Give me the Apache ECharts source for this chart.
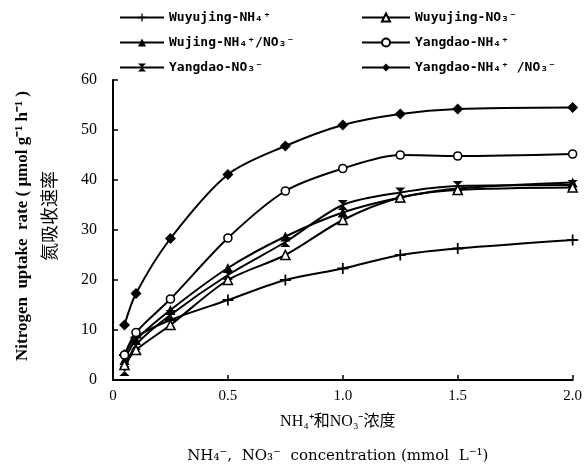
<!DOCTYPE html>
<html>
<head>
<meta charset="utf-8">
<script src="https://cdn.jsdelivr.net/npm/echarts@6/dist/echarts.min.js"></script>
<style>
  html, body { margin: 0; padding: 0; background: #fff; }
  #chart { width: 585px; height: 471px; }
</style>
</head>
<body>
<div id="chart"></div>
<script>
  // 浓度 (mmol L-1)
  var conc = [0.05, 0.1, 0.25, 0.5, 0.75, 1.0, 1.25, 1.5, 2.0];

  var names = [
    "Wuyujing-NH₄⁺",
    "Wujing-NH₄⁺/NO₃⁻",
    "Yangdao-NO₃⁻",
    "Wuyujing-NO₃⁻",
    "Yangdao-NH₄⁺",
    "Yangdao-NH₄⁺ /NO₃⁻"
  ];

  var wuyujingNH4 = [5, 8.5, 12, 16, 20, 22.3, 25, 26.3, 28];
  var wujingMix = [4, 8, 14, 22.4, 28.7, 33.5, 36.5, 38.3, 39.5];
  var yangdaoNO3 = [1.8, 7, 13, 21, 27.6, 35, 37.5, 38.8, 39];
  var wuyujingNO3 = [3, 6, 11, 20, 25, 32, 36.5, 38, 38.5];
  var yangdaoNH4 = [5, 9.5, 16.2, 28.4, 37.8, 42.3, 45, 44.8, 45.2];
  var yangdaoMix = [11, 17.3, 28.3, 41.1, 46.8, 51, 53.2, 54.2, 54.5];

  var xTicks = ["0", "0.5", "1.0", "1.5", "2.0"];

  var SYM_PLUS = "path://M0,4.2L10,4.2L10,5.8L0,5.8Z M4.2,0L5.8,0L5.8,10L4.2,10Z";
  var SYM_BOWTIE = "path://M0,0L10,0L0,10L10,10Z";

  function pairs(ys) {
    return conc.map(function (x, i) { return [x, ys[i]]; });
  }

  function line(name, ys, symbol, size, fill) {
    return {
      name: name,
      type: "line",
      smooth: 0.3,
      data: pairs(ys),
      symbol: symbol,
      symbolSize: size,
      showAllSymbol: true,
      lineStyle: { color: "#000", width: 2 },
      itemStyle: { color: fill, borderColor: "#000", borderWidth: fill === "#fff" ? 1.6 : 0 },
      z: 3
    };
  }

  var chart = echarts.init(document.getElementById("chart"));
  var font = "Liberation Serif, Times New Roman, serif";
  var mono = "DejaVu Sans Mono, Liberation Mono, monospace";
  var legendText = { color: "#000", fontFamily: mono, fontSize: 13, fontWeight: "bold" };

  chart.setOption({
    animation: false,
    backgroundColor: "#fff",
    legend: [{
      orient: "vertical",
      left: 114,
      top: 6,
      itemWidth: 44,
      itemHeight: 10,
      itemGap: 12,
      textStyle: legendText,
      data: [names[0], names[1], names[2]]
    }, {
      orient: "vertical",
      left: 356,
      top: 6,
      itemWidth: 48,
      itemHeight: 10,
      itemGap: 12,
      textStyle: legendText,
      data: [names[3], names[4], names[5]]
    }],
    grid: { left: 113, right: 8, top: 80, bottom: 91 },
    xAxis: {
      type: "value",
      min: 0,
      max: 2,
      interval: 0.5,
      name: "{a|NH₄⁺和NO₃⁻浓度}\n{b|NH₄⁻,  NO₃⁻  concentration (mmol  L⁻¹)}",
      nameLocation: "middle",
      nameGap: 25,
      nameTextStyle: {
        color: "#000",
        rich: {
          a: { fontFamily: font + ", Noto Sans CJK SC", fontSize: 16, lineHeight: 34, color: "#000", padding: [0, 10, 0, 0] },
          b: { fontFamily: "DejaVu Serif", fontSize: 15, lineHeight: 34, color: "#000", padding: [0, 10, 0, 0] }
        }
      },
      axisLine: { lineStyle: { color: "#000", width: 2 } },
      axisTick: { inside: true, length: 5, lineStyle: { color: "#000", width: 1.5 } },
      axisLabel: {
        color: "#000", fontFamily: font, fontSize: 15, margin: 9,
        formatter: function (v) { return xTicks[Math.round(v / 0.5)]; }
      },
      splitLine: { show: false }
    },
    yAxis: {
      type: "value",
      min: 0,
      max: 60,
      interval: 10,
      name: "{a|Nitrogen  uptake  rate ( μmol g⁻¹ h⁻¹ )}\n{b|氮吸收速率}",
      nameLocation: "middle",
      nameRotate: 90,
      nameGap: 50,
      nameTextStyle: {
        color: "#000",
        rich: {
          a: { fontFamily: font, fontSize: 17, fontWeight: "bold", lineHeight: 27, color: "#000", padding: [0, 0, 0, 8] },
          b: { fontFamily: "Noto Sans CJK SC", fontSize: 18, lineHeight: 27, color: "#000", padding: [0, 0, 0, 28] }
        }
      },
      axisLine: { show: true, lineStyle: { color: "#000", width: 2 } },
      axisTick: { show: true, inside: true, length: 5, lineStyle: { color: "#000", width: 1.5 } },
      axisLabel: { color: "#000", fontFamily: font, fontSize: 16, margin: 16 },
      splitLine: { show: false }
    },
    series: [
      line(names[0], wuyujingNH4, SYM_PLUS, 11, "#000"),
      line(names[1], wujingMix, "triangle", 10, "#000"),
      line(names[2], yangdaoNO3, SYM_BOWTIE, 10, "#000"),
      line(names[3], wuyujingNO3, "triangle", 9, "#fff"),
      line(names[4], yangdaoNH4, "circle", 8, "#fff"),
      line(names[5], yangdaoMix, "diamond", 11, "#000")
    ]
  });
</script>
</body>
</html>
